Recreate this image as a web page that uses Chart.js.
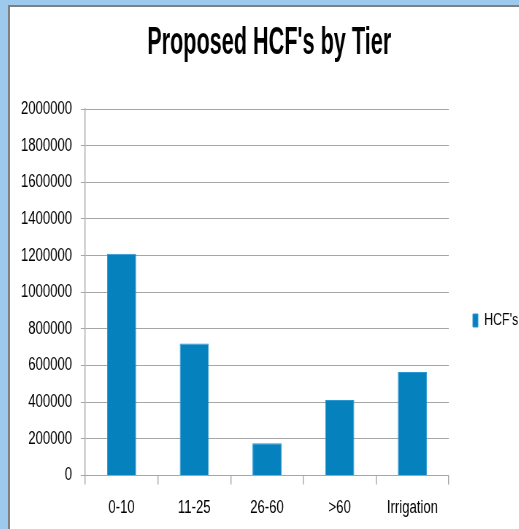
<!DOCTYPE html>
<html>
<head>
<meta charset="utf-8">
<script src="https://cdn.jsdelivr.net/npm/chart.js@4"></script>
<style>
  body { margin: 0; background: #9dc9ec; width: 519px; height: 529px; overflow: hidden; }
  #frame {
    position: absolute; left: 8px; top: 5px;
    width: 511px; height: 524px;
    border-left: 2px solid #808080; border-top: 2px solid #808080;
    background: #fff; overflow: hidden;
  }
  /* the original is a horizontally squeezed picture, so the chart is drawn wide and squeezed */
  #wrap {
    position: relative; width: 697px; height: 522px;
    transform: scaleX(0.73); transform-origin: 0 0;
  }
</style>
</head>
<body>
<div id="frame"><div id="wrap"><canvas id="hcfChart"></canvas></div></div>
<script>
// data
const tiers = ["0-10", "11-25", "26-60", ">60", "Irrigation"];
const hcfs = [1210000, 720000, 175000, 412000, 565000];
const seriesName = "HCF's";
const chartTitle = "Proposed HCF's by Tier";
const yTicks = [0, 200000, 400000, 600000, 800000, 1000000, 1200000, 1400000, 1600000, 1800000, 2000000];

const FONT = "'Liberation Sans', Arial, sans-serif";
const GRID = "#a6a6a6";

// title, a little narrower still (Calibri-like)
const squeezedTitle = {
    id: "squeezedTitle",
    afterDraw(chart) {
        const ctx = chart.ctx;
        const cx = (chart.chartArea.left + chart.chartArea.right) / 2 + 3;
        ctx.save();
        ctx.font = "bold 38px " + FONT;
        ctx.fillStyle = "#000";
        ctx.textAlign = "center";
        ctx.textBaseline = "alphabetic";
        ctx.translate(cx, 47);
        ctx.scale(0.78, 1);
        ctx.fillText(chartTitle, 0, 0);
        ctx.restore();
    }
};

new Chart(document.getElementById("hcfChart"), {
    type: "bar",
    data: {
        labels: tiers,
        datasets: [{
            label: seriesName,
            data: hcfs,
            backgroundColor: "#0581be",
            borderColor: "#2b97d0",
            borderWidth: 1,
            barPercentage: 0.4,
            categoryPercentage: 1
        }]
    },
    options: {
        responsive: true,
        maintainAspectRatio: false,
        animation: false,
        layout: { padding: { top: 102, left: 3, right: 0, bottom: -3 } },
        plugins: {
            title: { display: false },
            tooltip: { enabled: false },
            legend: {
                position: "right",
                maxWidth: 96,
                labels: {
                    boxWidth: 7,
                    boxHeight: 13,
                    color: "#000",
                    font: { family: FONT, size: 17 },
                    padding: 33
                }
            }
        },
        scales: {
            x: {
                grid: {
                    drawOnChartArea: false,
                    drawTicks: true,
                    tickLength: 9,
                    lineWidth: 1.4,
                    color: GRID
                },
                border: { color: GRID },
                ticks: {
                    color: "#000",
                    font: { family: FONT, size: 18 },
                    padding: 13,
                    maxRotation: 0,
                    autoSkip: false
                }
            },
            y: {
                min: 0,
                max: 2000000,
                afterBuildTicks(axis) {
                    axis.ticks = yTicks.map(v => ({ value: v }));
                },
                grid: { color: GRID, tickLength: 6, lineWidth: 1 },
                border: { color: GRID, width: 1.4 },
                ticks: {
                    color: "#000",
                    font: { family: FONT, size: 18 },
                    padding: 12,
                    callback: v => String(v)
                }
            }
        }
    },
    plugins: [squeezedTitle]
});
</script>
</body>
</html>
